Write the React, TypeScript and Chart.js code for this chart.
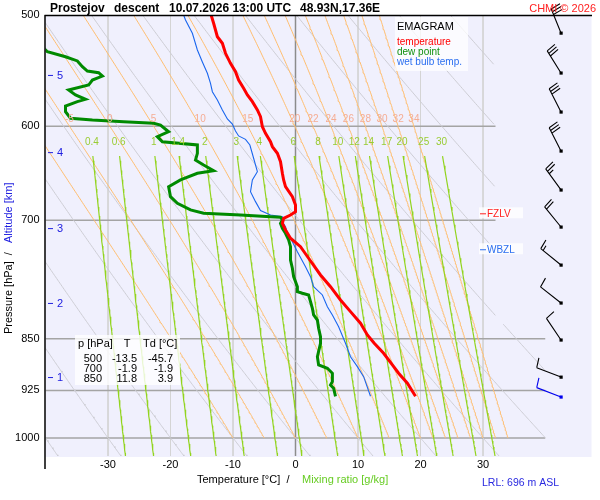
import React, { useEffect, useRef } from "react";
import { Chart, registerables } from "chart.js";
Chart.register(...registerables);

// ---- sounding: temperature (°C) vs pressure (hPa)
const tempP = [500, 506.8, 518.1, 523.7, 532.4, 541.2, 548.7, 556.2, 563.8, 570.0, 576.3, 584.2, 590.7, 600.4, 607.0, 615.4, 620.4, 627.2, 635.9, 648.1, 655.2, 662.5, 673.4, 682.6, 690.2, 693.9, 697.7, 703.4, 711.2, 720.9, 730.9, 744.9, 765.6, 780.4, 797.6, 813.0, 828.6, 844.7, 856.2, 870.4, 887.2, 899.4, 914.2, 934];
const tempT = [-13.5, -13.1, -12.5, -11.7, -11.2, -10.4, -9.6, -9.1, -8.3, -7.7, -6.9, -6.1, -5.6, -5.3, -4.8, -4.0, -3.7, -2.9, -2.4, -2.1, -1.9, -1.6, -0.5, 0.0, 0.0, -0.8, -1.9, -2.1, -1.6, -0.8, 0.8, 2.1, 4.0, 5.6, 7.2, 8.8, 10.4, 11.5, 12.6, 14.1, 15.5, 16.5, 17.9, 19.2];

// ---- wet bulb temperature
const wetP = [500, 504.1, 515.2, 529.5, 540.0, 550.1, 559.2, 567.0, 574.7, 584.2, 592.9, 597.8, 604.7, 609.6, 613.0, 618.7, 632.3, 646.4, 655.2, 667.9, 678.9, 688.8, 693.9, 695.8, 701.6, 707.3, 715.0, 724.9, 736.9, 755.2, 767.7, 780.4, 791.1, 806.4, 817.4, 833.3, 856.2, 875.3, 889.7, 904.4, 934];
const wetT = [-17.9, -17.6, -16.5, -15.7, -14.9, -14.1, -13.6, -13.3, -12.5, -11.7, -10.9, -10.1, -9.6, -9.1, -8.0, -7.3, -6.7, -6.1, -6.9, -7.2, -6.4, -5.6, -4.0, -2.1, -2.1, -1.6, -1.3, -0.5, 0.3, 1.6, 2.4, 2.9, 4.3, 5.1, 5.9, 6.9, 8.0, 8.8, 9.9, 10.9, 12.0];

// ---- dew point
const dewP = [500, 531.0, 535.4, 539.1, 544.2, 548.1, 549.6, 552.6, 556.2, 560.8, 565.4, 570.0, 574.1, 576.3, 580.4, 585.8, 592.2, 593.9, 595.5, 597.1, 598.8, 605.4, 610.3, 615.4, 618.7, 627.2, 634.1, 639.3, 645.3, 648.1, 655.2, 662.5, 673.4, 680.7, 688.2, 692.0, 693.9, 695.8, 696.5, 699.6, 703.4, 709.2, 715.0, 722.9, 730.9, 747.0, 757.2, 767.7, 780.4, 786.8, 788.9, 791.1, 799.8, 808.5, 817.4, 824.2, 835.5, 847.0, 856.2, 875.3, 887.2, 892.0, 899.4, 911.9, 916.8, 921.8, 934];
const dewT = [-45.7, -39.7, -36.8, -34.9, -34.1, -33.3, -31.5, -30.9, -32.5, -33.1, -36.3, -35.2, -33.6, -34.9, -36.8, -36.8, -36.0, -32.5, -27.5, -22.7, -21.6, -20.3, -22.1, -21.3, -15.7, -15.7, -16.0, -14.7, -13.1, -15.7, -18.4, -20.3, -20.0, -18.9, -16.8, -14.7, -8.8, -4.0, -2.4, -2.1, -2.4, -2.1, -1.6, -1.1, -0.8, -0.8, -0.5, -0.3, 0.3, 0.3, 1.1, 2.1, 2.4, 2.7, 2.9, 3.5, 3.7, 4.0, 4.0, 3.5, 3.7, 5.1, 5.9, 5.9, 5.6, 6.1, 6.4];

// ---- axes / diagram reference values
const pressureTicks = [500, 600, 700, 850, 925, 1000];
const tempTicks = [-30, -20, -10, 0, 10, 20, 30];
const isotherms = [-30, -20, -10, 0, 10, 20, 30];
const isobars = [600, 700, 850, 925, 1000];
const dryThetas = [-40, -30, -20, -10, 0, 10, 20, 30, 40, 50, 60, 70, 80, 90, 100];
const moistThetaW = [-10, -5, 0, 5, 10, 15, 20, 22, 24, 26, 28, 30, 32, 34];
const mixingRatios = [0.4, 0.6, 1, 1.4, 2, 3, 4, 6, 8, 10, 12, 14, 17, 20, 25, 30];

// ---- altitude marks (km) and their pressures
const altitudeKm = [1, 2, 3, 4, 5];
const altitudeP = [905, 801.5, 709, 626, 551.6];

// ---- winds
const windP = [935, 905, 851.6, 801.5, 753.2, 707.7, 666, 624.8, 586.1, 549.8, 515];
const windDir = [291, 291, 326, 308, 309, 321, 324, 333, 333, 328, 338];
const windSpd = [10, 10, 10, 10, 15, 20, 25, 30, 30, 30, 30];

// ---- table
const tableP = ["500", "700", "850"];
const tableT = ["-13.5", "-1.9", "11.8"];
const tableTd = ["-45.7", "-1.9", "3.9"];

const fzlvP = 692;
const wbzlP = 734;

const FONT = '"Liberation Sans", Arial, Helvetica, sans-serif';
Chart.defaults.font.family = FONT;

const P_MIN = 500, P_MAX = 1030;

function inDiagram(T: number, p: number) {
  return p >= 830 ? true : T <= 32;
}
function mask(pts: { x: number; y: number }[]) {
  return pts.map((pt) => (inDiagram(pt.x, pt.y) ? pt : { x: pt.x, y: null as any }));
}
function dryCurve(th: number) {
  const pts: { x: number; y: number }[] = [];
  for (let p = P_MIN; p <= P_MAX; p += 2) {
    pts.push({ x: (th + 273.15) * Math.pow(p / 1000, 0.2857) - 273.15, y: p });
  }
  return mask(pts);
}
function lapse(T: number, p: number) {
  const Rd = 287.04, Cp = 1005.7, L = 2.501e6, eps = 0.622;
  const Tc = T - 273.15;
  const es = 6.112 * Math.exp((17.67 * Tc) / (Tc + 243.5));
  const rs = (eps * es) / (p - es);
  return (Rd * T + L * rs) / (p * (Cp + (L * L * rs * eps) / (Rd * T * T)));
}
function moistCurve(thw: number) {
  const pts: { x: number; y: number }[] = [];
  let T = thw + 273.15;
  const h = -2;
  for (let p = 1000; p >= P_MIN; p += h) {
    pts.push({ x: T - 273.15, y: p });
    const k1 = lapse(T, p);
    const k2 = lapse(T + (h * k1) / 2, p + h / 2);
    const k3 = lapse(T + (h * k2) / 2, p + h / 2);
    const k4 = lapse(T + h * k3, p + h);
    T += (h * (k1 + 2 * k2 + 2 * k3 + k4)) / 6;
  }
  return pts;
}
function mixTd(w: number, p: number) {
  const e = ((w / 1000) * p) / (0.622 + w / 1000);
  const l = Math.log(e / 6.112);
  return (243.5 * l) / (17.67 - l);
}
function mixCurve(w: number) {
  const pts: { x: number; y: number }[] = [];
  for (let p = 630; p <= P_MAX; p += 5) pts.push({ x: mixTd(w, p), y: p });
  return mask(pts);
}

const moistCurves = moistThetaW.map((t) => moistCurve(t));

function lineDs(data: any[], color: string, width: number, order: number) {
  return {
    type: "line" as const,
    data,
    borderColor: color,
    backgroundColor: color,
    borderWidth: width,
    pointRadius: 0,
    pointHoverRadius: 0,
    fill: false,
    tension: 0,
    spanGaps: false,
    order,
  };
}

function drawBarb(ctx: CanvasRenderingContext2D, x0: number, y0: number, dir: number, spd: number, color: string) {
  const a = (dir * Math.PI) / 180;
  const ux = Math.sin(a), uy = -Math.cos(a);
  const L = 26;
  const tx = x0 + ux * L, ty = y0 + uy * L;
  const px = -uy, py = ux;
  ctx.save();
  ctx.strokeStyle = color;
  ctx.fillStyle = color;
  ctx.lineWidth = 1.1;
  ctx.beginPath();
  ctx.moveTo(x0, y0);
  ctx.lineTo(tx, ty);
  const n10 = Math.floor(spd / 10);
  const half = spd % 10 >= 5;
  let off = 0;
  for (let i = 0; i < n10; i++) {
    const bx = tx - ux * off, by = ty - uy * off;
    ctx.moveTo(bx, by);
    ctx.lineTo(bx + px * 10 + ux * 1.5, by + py * 10 + uy * 1.5);
    off += 3;
  }
  if (half) {
    if (n10 === 0) off = 3;
    const bx = tx - ux * off, by = ty - uy * off;
    ctx.moveTo(bx, by);
    ctx.lineTo(bx + px * 5.5 + ux * 0.8, by + py * 5.5 + uy * 0.8);
  }
  ctx.stroke();
  ctx.fillRect(x0 - 1.5, y0 - 1.5, 3.2, 3.2);
  ctx.restore();
}

function txt(ctx: CanvasRenderingContext2D, s: string, x: number, y: number, font: string, color: string, align: CanvasTextAlign = "left") {
  ctx.font = font;
  ctx.fillStyle = color;
  ctx.textAlign = align;
  ctx.textBaseline = "alphabetic";
  ctx.fillText(s, x, y);
}

const decor = {
  id: "emagramDecor",
  beforeDraw(chart: any) {
    const { ctx, chartArea: a } = chart;
    ctx.save();
    ctx.fillStyle = "#ffffff";
    ctx.fillRect(0, 0, chart.width, chart.height);
    ctx.fillStyle = "#f0f0fd";
    ctx.fillRect(a.left, a.top, a.right + 46 - a.left, a.bottom - a.top + 1);
    ctx.restore();
  },
  afterDatasetsDraw(chart: any) {
    const { ctx, chartArea: a } = chart;
    const xs = chart.scales.x, ys = chart.scales.y;
    ctx.save();

    // moist adiabat labels at 600 hPa
    const y600 = ys.getPixelForValue(600);
    moistThetaW.forEach((t, i) => {
      const pt = moistCurves[i].find((q) => Math.abs(q.y - 600) < 0.5);
      if (!pt || pt.x < -38) return;
      txt(ctx, String(t), xs.getPixelForValue(pt.x), y600 - 4, `10px ${FONT}`, "#f5ad94", "center");
    });
    // mixing ratio labels
    const yl = ys.getPixelForValue(630) - 11;
    mixingRatios.forEach((w) => {
      txt(ctx, String(w), xs.getPixelForValue(mixTd(w, 630)) - 1, yl, `10px ${FONT}`, "#99cc33", "center");
    });

    // legend box
    ctx.fillStyle = "rgba(255,255,255,0.75)";
    ctx.fillRect(395, 17, 73, 54);
    txt(ctx, "EMAGRAM", 397, 30, `11px ${FONT}`, "#000");
    txt(ctx, "temperature", 397, 45, `10px ${FONT}`, "#ff0000");
    txt(ctx, "dew point", 397, 55, `10px ${FONT}`, "#109010");
    txt(ctx, "wet bulb temp.", 397, 65, `10px ${FONT}`, "#2a6ef0");

    // table box
    ctx.fillStyle = "rgba(255,255,255,0.8)";
    ctx.fillRect(75, 335, 105, 50);
    txt(ctx, "p [hPa]", 78, 347, `11px ${FONT}`, "#000");
    txt(ctx, "T", 127, 347, `11px ${FONT}`, "#000", "center");
    txt(ctx, "Td [°C]", 143, 347, `11px ${FONT}`, "#000");
    tableP.forEach((p, i) => {
      const y = 362 + i * 10;
      txt(ctx, p, 102, y, `11px ${FONT}`, "#000", "right");
      txt(ctx, tableT[i], 137, y, `11px ${FONT}`, "#000", "right");
      txt(ctx, tableTd[i], 173, y, `11px ${FONT}`, "#000", "right");
    });

    // FZLV / WBZL
    const lvl = (p: number, label: string, color: string) => {
      const y = ys.getPixelForValue(p);
      ctx.fillStyle = "rgba(255,255,255,0.8)";
      ctx.fillRect(479, y - 6, 44, 11);
      ctx.strokeStyle = color;
      ctx.lineWidth = 1;
      ctx.beginPath();
      ctx.moveTo(480, y + 0.5);
      ctx.lineTo(486, y + 0.5);
      ctx.stroke();
      txt(ctx, label, 487, y + 4, `10px ${FONT}`, color);
    };
    lvl(fzlvP, "FZLV", "#ff2020");
    lvl(wbzlP, "WBZL", "#2a6ef0");

    // altitude marks
    altitudeKm.forEach((k, i) => {
      const y = ys.getPixelForValue(altitudeP[i]);
      ctx.strokeStyle = "#2020e0";
      ctx.lineWidth = 1;
      ctx.beginPath();
      ctx.moveTo(48, y + 0.5);
      ctx.lineTo(53, y + 0.5);
      ctx.stroke();
      txt(ctx, String(k), 57, y + 4, `11px ${FONT}`, "#2020e0");
    });

    // wind barbs
    const wx = a.right + 15.5;
    windP.forEach((p, i) => {
      drawBarb(ctx, wx, ys.getPixelForValue(p), windDir[i], windSpd[i], i === 0 ? "#0000ee" : "#000");
    });

    // axis lines
    ctx.strokeStyle = "#000";
    ctx.lineWidth = 1.5;
    ctx.beginPath();
    ctx.moveTo(a.left - 0.5, a.top);
    ctx.lineTo(a.left - 0.5, 469);
    ctx.moveTo(a.left - 1, a.top + 0.5);
    ctx.lineTo(592, a.top + 0.5);
    ctx.stroke();

    // title
    const tf = `bold 12px ${FONT}`;
    txt(ctx, "Prostejov", 50, 12, tf, "#000");
    txt(ctx, "descent", 114, 12, tf, "#000");
    txt(ctx, "10.07.2026 13:00 UTC", 169, 12, tf, "#000");
    txt(ctx, "48.93N,17.36E", 300, 12, tf, "#000");
    txt(ctx, "CHMI © 2026", 596, 12, `11px ${FONT}`, "#ff2020", "right");

    // x title
    txt(ctx, "Temperature [°C]  /", 197, 483, `11px ${FONT}`, "#000");
    txt(ctx, "Mixing ratio [g/kg]", 302, 483, `11px ${FONT}`, "#66cc22");
    txt(ctx, "LRL: 696 m ASL", 482, 486, `10.5px ${FONT}`, "#2a2ae0");

    // y title (rotated)
    ctx.save();
    ctx.translate(12, 334);
    ctx.rotate(-Math.PI / 2);
    txt(ctx, "Pressure [hPa]  /", 0, 0, `11px ${FONT}`, "#000");
    txt(ctx, "Altitude [km]", 91, 0, `11px ${FONT}`, "#2020e0");
    ctx.restore();

    ctx.restore();
  },
};

export default function App() {
  const ref = useRef<HTMLCanvasElement>(null);
  useEffect(() => {
    document.body.style.margin = "0";
    const datasets: any[] = [];
    datasets.push(lineDs(tempP.map((p, i) => ({ x: tempT[i], y: p })), "#ff0000", 3, 0));
    datasets.push(lineDs(dewP.map((p, i) => ({ x: dewT[i], y: p })), "#008a00", 3, 1));
    datasets.push(lineDs(wetP.map((p, i) => ({ x: wetT[i], y: p })), "#1a66ee", 1.1, 2));
    mixingRatios.forEach((w) => datasets.push(lineDs(mixCurve(w), "#92d41e", 1.2, 5)));
    moistCurves.forEach((c) => datasets.push(lineDs(mask(c), "#ffbd6e", 1, 6)));
    dryThetas.forEach((t) => datasets.push(lineDs(dryCurve(t), "#cdcdd4", 1, 7)));
    isobars.forEach((p) =>
      datasets.push(lineDs([{ x: -40, y: p }, { x: p >= 850 ? 40 : 32, y: p }], "#a4a4a4", 1.5, 8))
    );
    isotherms.forEach((t) =>
      datasets.push(lineDs([{ x: t, y: P_MIN }, { x: t, y: P_MAX }], t === 0 ? "#8c8c8c" : "#d4d4d4", t === 0 ? 1.5 : 1, 9))
    );

    const chart = new Chart(ref.current as HTMLCanvasElement, {
      type: "line",
      data: { datasets },
      options: {
        animation: false,
        responsive: false,
        events: [],
        layout: { padding: { top: 15, right: 54.5, left: 0, bottom: 0 } },
        plugins: { legend: { display: false }, tooltip: { enabled: false }, title: { display: false } },
        scales: {
          x: {
            type: "linear",
            min: -40,
            max: 40,
            grid: { display: false, drawTicks: false },
            border: { display: false },
            afterBuildTicks: (s: any) => {
              s.ticks = tempTicks.map((v) => ({ value: v }));
            },
            afterFit: (s: any) => {
              s.height = 44;
            },
            ticks: {
              autoSkip: false,
              maxRotation: 0,
              padding: 2,
              color: "#000",
              font: { size: 11, family: FONT },
              callback: (v: any) => String(v),
            },
          },
          y: {
            type: "logarithmic",
            min: P_MIN,
            max: P_MAX,
            reverse: true,
            grid: { display: false, drawTicks: false },
            border: { display: false },
            afterBuildTicks: (s: any) => {
              s.ticks = pressureTicks.map((v) => ({ value: v }));
            },
            afterFit: (s: any) => {
              s.width = 45.5;
            },
            ticks: {
              autoSkip: false,
              padding: 6,
              color: "#000",
              font: { size: 11, family: FONT },
              callback: (v: any) => String(v),
            },
          },
        },
      },
      plugins: [decor],
    } as any);
    return () => chart.destroy();
  }, []);
  return (
    <div style={{ position: "absolute", left: 0, top: 0, width: 600, height: 500 }}>
      <canvas ref={ref} width={600} height={500} style={{ display: "block", width: 600, height: 500 }} />
    </div>
  );
}
